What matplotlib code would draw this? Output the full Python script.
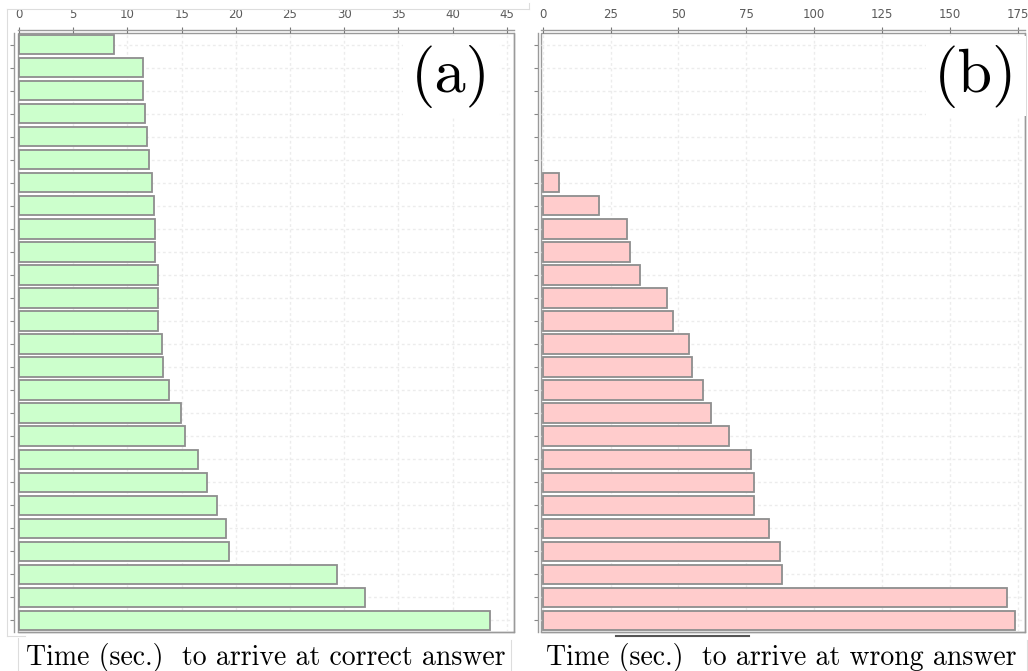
import matplotlib
matplotlib.use("Agg")
import matplotlib.pyplot as plt
from matplotlib.lines import Line2D

# ---------------- data ----------------
correct_times = [8.8, 11.45, 11.45, 11.65, 11.8, 12.0, 12.3, 12.45, 12.5, 12.5,
                 12.8, 12.8, 12.8, 13.2, 13.3, 13.8, 14.9, 15.3, 16.5, 17.3,
                 18.3, 19.1, 19.35, 29.3, 31.95, 43.4]
wrong_times = [6.1, 20.6, 30.9, 32.0, 35.7, 45.6, 47.9, 54.0, 55.1, 58.9,
               61.9, 68.5, 76.7, 77.8, 77.8, 83.2, 87.4, 88.1, 171.0, 174.0]
n_slots = 26
correct_ticks = [0, 5, 10, 15, 20, 25, 30, 35, 40, 45]
wrong_ticks = [0, 25, 50, 75, 100, 125, 150, 175]
panel_labels = ["(a)", "(b)"]
axis_titles = ["Time (sec.)  to arrive at correct answer",
               "Time (sec.)  to arrive at wrong answer"]

W, H = 1028, 671
fig = plt.figure(figsize=(W / 100, H / 100), dpi=100)
fig.patch.set_facecolor("white")

def fx(px):
    return px / W

def fy(py):
    return 1 - py / H

frame_col = "#9a9a9a"
grid_col = "#ececec"

panels = [
    dict(left=17.5, right=514, xlim=(-0.14, 45.66), ticks=correct_ticks,
         vals=correct_times, face="#ccffcc", label_xy=(451, 76), title_x=266),
    dict(left=541, right=1025, xlim=(-0.63, 177.6), ticks=wrong_ticks,
         vals=wrong_times, face="#ffcccc", label_xy=(976, 76), title_x=781),
]

top_px, bot_px = 33, 632
for i, p in enumerate(panels):
    ax = fig.add_axes([fx(p["left"]), fy(bot_px), fx(p["right"] - p["left"]),
                       (bot_px - top_px) / H])
    vals = p["vals"]
    pos = list(range(n_slots - len(vals), n_slots))
    ax.barh(pos, vals, height=0.84, color=p["face"], edgecolor="#8e8e8e",
            linewidth=1.3, zorder=2)
    ax.set_xlim(*p["xlim"])
    ax.set_ylim(n_slots - 0.5, -0.5)
    ax.set_xticks(p["ticks"])
    ax.set_yticks(range(n_slots))
    ax.set_yticklabels([])
    ax.xaxis.tick_top()
    ax.tick_params(axis="x", direction="inout", length=4, width=0.8,
                   colors="#777777", labelcolor="#5a5a5a", labelsize=8.5, pad=4)
    ax.tick_params(axis="y", direction="out", length=3, width=0.8,
                   colors="#888888")
    ax.set_axisbelow(True)
    ax.grid(True, color=grid_col, linestyle=(0, (2, 2)), linewidth=1.0)
    for s in ax.spines.values():
        s.set_color(frame_col)
        s.set_linewidth(1.0)
    ax.spines["top"].set_position(("outward", 2.5))
    ax.spines["left"].set_position(("outward", 2.5))
    ax.patch.set_edgecolor(frame_col)
    ax.patch.set_linewidth(1.0)

    lx, ly = p["label_xy"]
    fig.text(fx(lx), fy(ly), panel_labels[i], family="cmr10", fontsize=45,
             ha="center", va="center",
             bbox=dict(facecolor="white", edgecolor="none", pad=6), zorder=5)
    fig.text(fx(p["title_x"]), fy(657), axis_titles[i], family="cmr10",
             fontsize=20, ha="center", va="center")

# faint decorative frame lines around the text boxes and panel (a)
faint = "#dddddd"
for x0, y0, y1 in [(18, 638, 671), (511, 640, 671), (1027, 640, 671), (7, 9, 636)]:
    fig.add_artist(Line2D([fx(x0), fx(x0)], [fy(y0), fy(y1)], color=faint, lw=0.8))
fig.add_artist(Line2D([fx(7), fx(529)], [fy(9), fy(9)], color=faint, lw=0.8))
fig.add_artist(Line2D([fx(529), fx(529)], [fy(9), fy(3)], color=faint, lw=0.8))
fig.add_artist(Line2D([fx(7), fx(25)], [fy(636), fy(636)], color=faint, lw=0.8))
# dark stroke under panel (b)
fig.add_artist(Line2D([fx(616), fx(749)], [fy(636), fy(636)], color="#555555", lw=1.5))

fig.savefig("out.png", dpi=100, facecolor="white")
